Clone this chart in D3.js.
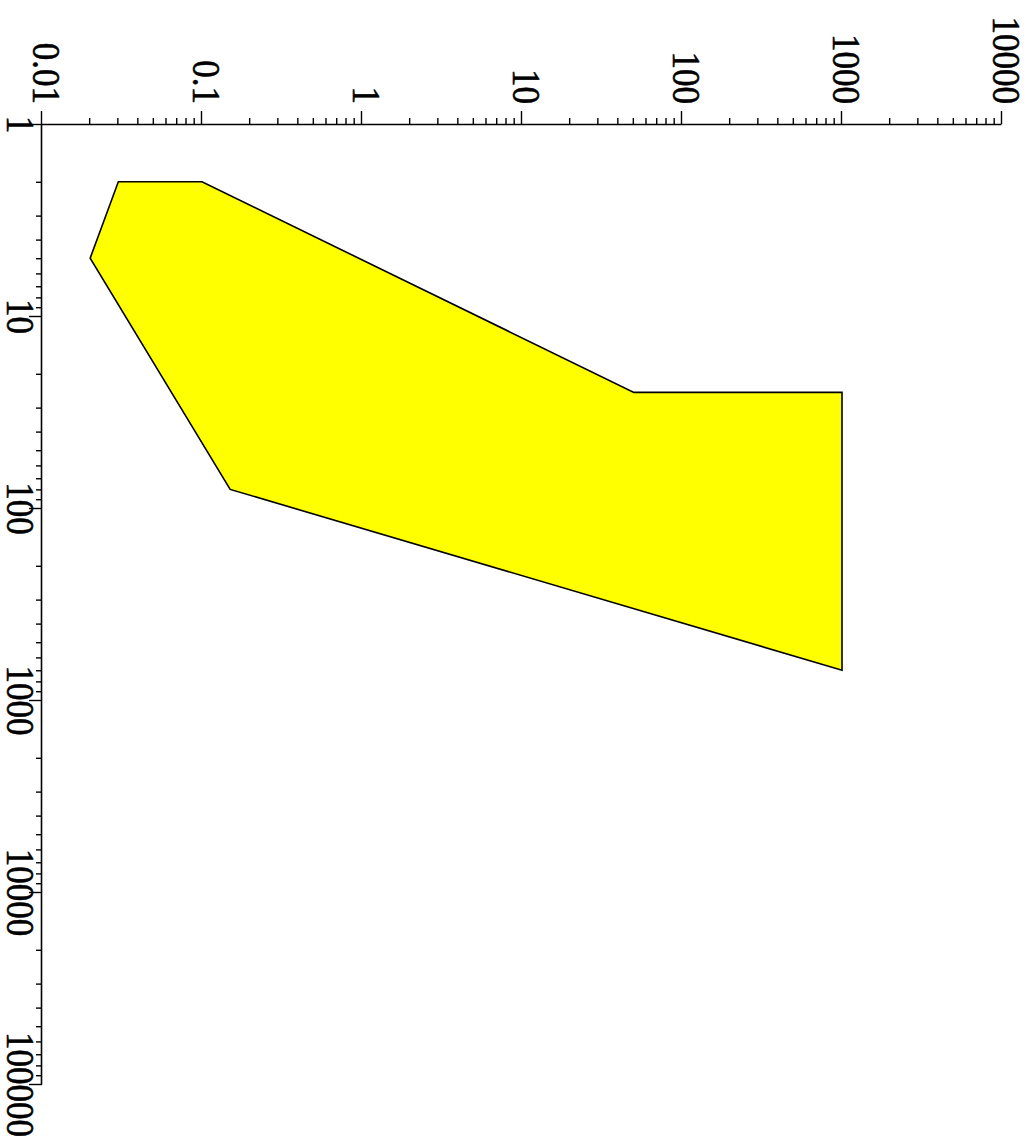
<!DOCTYPE html>
<html>
<head>
<meta charset="utf-8">
<script src="https://cdn.jsdelivr.net/npm/d3@7"></script>
<style>
  html, body { margin: 0; padding: 0; background: #fff; }
  svg { display: block; }
</style>
</head>
<body>
<script>
// Axis decades and their labels
const xTickValues = [1, 10, 100, 1000, 10000, 100000];
const xTickLabels = ["1", "10", "100", "1000", "10000", "100000"];
const yTickValues = [0.01, 0.1, 1, 10, 100, 1000, 10000];
const yTickLabels = ["0.01", "0.1", "1", "10", "100", "1000", "10000"];

// Outline of the shaded region (vertices in order)
const regionX = [2, 2, 25, 25, 700, 80, 5];
const regionY = [0.03, 0.1, 50, 1000, 1000, 0.15, 0.02];

const W = 1034, H = 1148;
const plotW = 960, plotH = 960;
const fontSize = 35;
const stretch = 1.12;
const majorLen = 13, minorLen = 6;

const svg = d3.select("body").append("svg")
  .attr("width", W).attr("height", H);

// The plot is laid out upright, then turned a quarter turn clockwise.
const g = svg.append("g").attr("transform", "translate(1002,124) rotate(90)");

const x = d3.scaleLog().domain([1, 1e5]).range([0, plotW]);
const y = d3.scaleLog().domain([0.01, 1e4]).range([plotH, 0]);

function logTicks(domain) {
  const lo = Math.round(Math.log10(domain[0])), hi = Math.round(Math.log10(domain[1]));
  const t = [];
  for (let e = lo; e < hi; e++) for (let m = 1; m < 10; m++) t.push(+(m * Math.pow(10, e)).toPrecision(6));
  t.push(Math.pow(10, hi));
  return t;
}
const isMajor = v => Math.abs(Math.log10(v) - Math.round(Math.log10(v))) < 1e-9;

// shaded region
const pts = regionX.map((d, i) => [x(d), y(regionY[i])]);
g.append("path")
  .attr("d", d3.line()(pts) + "Z")
  .attr("fill", "#ffff00")
  .attr("stroke", "#000")
  .attr("stroke-width", 1.6)
  .attr("stroke-linejoin", "miter");

// horizontal (x) axis
const xLabel = v => { const i = xTickValues.findIndex(t => Math.abs(t - v) < 1e-9 * t); return i >= 0 ? xTickLabels[i] : ""; };
const xAxis = d3.axisBottom(x)
  .tickValues(logTicks(x.domain()))
  .tickFormat(xLabel)
  .tickSizeInner(majorLen)
  .tickSizeOuter(0);
const gx = g.append("g").attr("transform", `translate(0,${plotH})`).call(xAxis);

// vertical (y) axis
const yLabel = v => { const i = yTickValues.findIndex(t => Math.abs(t - v) < 1e-9 * t); return i >= 0 ? yTickLabels[i] : ""; };
const yAxis = d3.axisLeft(y)
  .tickValues(logTicks(y.domain()))
  .tickFormat(yLabel)
  .tickSizeInner(majorLen)
  .tickSizeOuter(0);
const gy = g.append("g").call(yAxis);

[gx, gy].forEach(a => {
  a.select(".domain").attr("stroke", "#000").attr("stroke-width", 1.6);
  a.selectAll(".tick line").attr("stroke", "#000").attr("stroke-width", 1.4);
  a.selectAll("text")
    .attr("fill", "#000")
    .attr("stroke", "#000")
    .attr("stroke-width", 0.5)
    .style("font-family", "'Liberation Serif', 'Times New Roman', serif")
    .style("font-size", fontSize + "px");
});

gx.selectAll(".tick line").attr("y2", d => isMajor(d) ? majorLen : minorLen);
gy.selectAll(".tick line").attr("x2", d => isMajor(d) ? -majorLen : -minorLen);

gx.selectAll(".tick text")
  .attr("y", 6.2)
  .attr("dy", "0.71em")
  .attr("transform", `scale(1,${stretch})`);

gy.selectAll(".tick text")
  .attr("x", -20)
  .attr("dy", "0.21em")
  .attr("transform", `scale(1,${stretch})`);
</script>
</body>
</html>
